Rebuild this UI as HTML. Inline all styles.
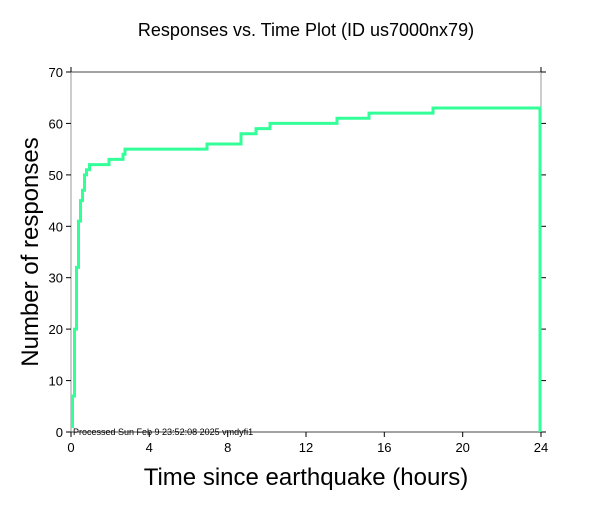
<!DOCTYPE html>
<html><head><style>body{margin:0;background:#fff}</style></head><body>
<svg width="612" height="504" xmlns="http://www.w3.org/2000/svg" font-family="Liberation Sans, sans-serif">
<rect width="612" height="504" fill="#fff"/>
<text x="306" y="36" font-size="18" text-anchor="middle" fill="#000">Responses vs. Time Plot (ID us7000nx79)</text>
<line x1="71" y1="72" x2="541" y2="72" stroke="#444" stroke-width="1"/>
<line x1="71" y1="72" x2="71" y2="432" stroke="#999" stroke-width="1"/>
<line x1="541" y1="72" x2="541" y2="432" stroke="#999" stroke-width="1"/>
<line x1="71" y1="432" x2="541" y2="432" stroke="#444" stroke-width="1"/>
<g stroke="#000" stroke-width="1">
<line x1="66" y1="432" x2="71" y2="432"/><line x1="66" y1="380.6" x2="71" y2="380.6"/><line x1="66" y1="329.1" x2="71" y2="329.1"/><line x1="66" y1="277.7" x2="71" y2="277.7"/><line x1="66" y1="226.3" x2="71" y2="226.3"/><line x1="66" y1="174.9" x2="71" y2="174.9"/><line x1="66" y1="123.4" x2="71" y2="123.4"/><line x1="66" y1="72" x2="71" y2="72"/>
<line x1="541" y1="432" x2="546" y2="432"/><line x1="541" y1="380.6" x2="546" y2="380.6"/><line x1="541" y1="329.1" x2="546" y2="329.1"/><line x1="541" y1="277.7" x2="546" y2="277.7"/><line x1="541" y1="226.3" x2="546" y2="226.3"/><line x1="541" y1="174.9" x2="546" y2="174.9"/><line x1="541" y1="123.4" x2="546" y2="123.4"/><line x1="541" y1="72" x2="546" y2="72"/>
<line x1="71" y1="432" x2="71" y2="437"/><line x1="149.3" y1="432" x2="149.3" y2="437"/><line x1="227.7" y1="432" x2="227.7" y2="437"/><line x1="306" y1="432" x2="306" y2="437"/><line x1="384.3" y1="432" x2="384.3" y2="437"/><line x1="462.7" y1="432" x2="462.7" y2="437"/><line x1="541" y1="432" x2="541" y2="437"/>
<line x1="71" y1="67" x2="71" y2="72"/><line x1="541" y1="67" x2="541" y2="72"/>
</g>
<g font-size="13" fill="#000" text-anchor="end">
<text x="63" y="437">0</text><text x="63" y="385.6">10</text><text x="63" y="334.1">20</text><text x="63" y="282.7">30</text><text x="63" y="231.3">40</text><text x="63" y="179.9">50</text><text x="63" y="128.4">60</text><text x="63" y="77">70</text>
</g>
<g font-size="13" fill="#000" text-anchor="middle">
<text x="71" y="452">0</text><text x="149.3" y="452">4</text><text x="227.7" y="452">8</text><text x="306" y="452">12</text><text x="384.3" y="452">16</text><text x="462.7" y="452">20</text><text x="541" y="452">24</text>
</g>
<text x="306" y="485" font-size="24" text-anchor="middle">Time since earthquake (hours)</text>
<text transform="translate(38,252) rotate(-90)" font-size="24" text-anchor="middle">Number of responses</text>
<text x="73" y="435" font-size="9" fill="#000">Processed Sun Feb  9 23:52:08 2025 vmdyfi1</text>
<polyline fill="none" stroke="#33ff99" stroke-width="3" points="72.5,428 72.5,396 74.5,396 74.5,329.1 76.5,329.1 76.5,267.4 78.5,267.4 78.5,221.1 80.5,221.1 80.5,200.6 82.5,200.6 82.5,190.3 84.5,190.3 84.5,174.9 86.5,174.9 86.5,169.7 89.5,169.7 89.5,164.6 109,164.6 109,159.4 123,159.4 123,154.3 125,154.3 125,149.1 207,149.1 207,144 241,144 241,133.7 256,133.7 256,128.6 270,128.6 270,123.4 337,123.4 337,118.3 369,118.3 369,113.1 433,113.1 433,108 540,108 540,432"/>
</svg>
</body></html>
